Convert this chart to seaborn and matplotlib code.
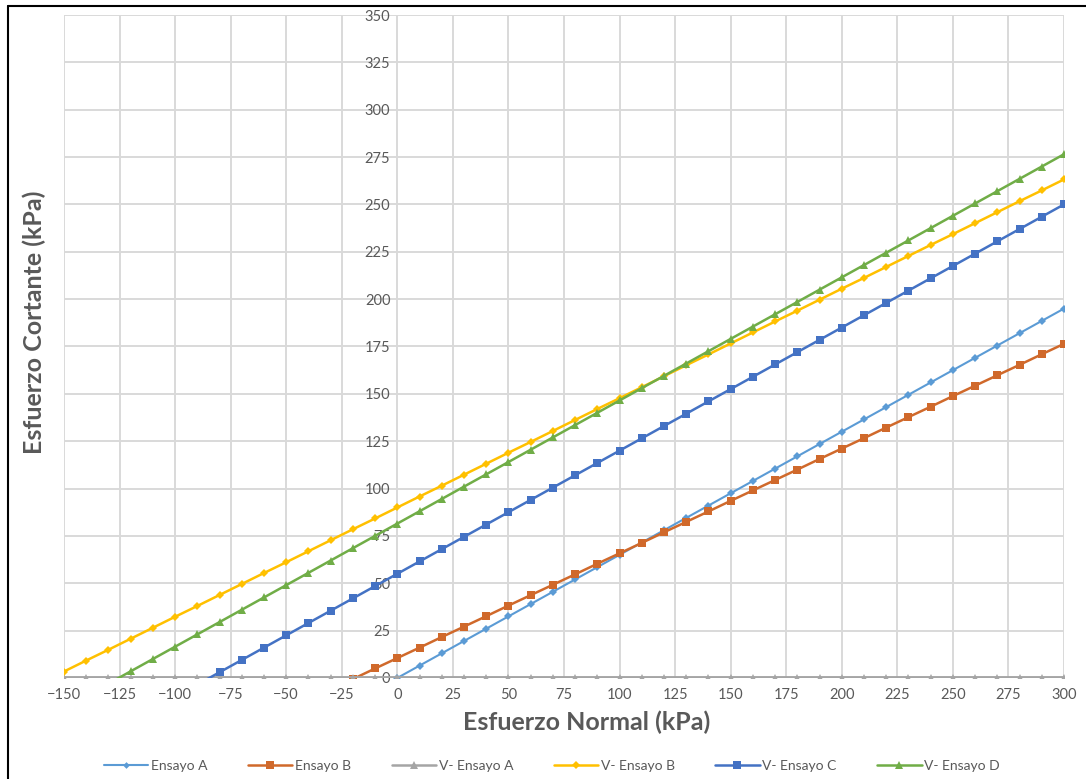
"""
Envolventes de falla: esfuerzo cortante vs esfuerzo normal
(ensayos de corte directo, estilo hoja de calculo)
"""

import pandas as pd
import matplotlib.pyplot as plt
import seaborn as sns
from matplotlib.lines import Line2D

# -------------------------------------------------------------------------
# Data (kPa)
esfuerzo_normal = [
    -150, -140, -130, -120, -110, -100, -90, -80, -70, -60,
    -50, -40, -30, -20, -10, 0, 10, 20, 30, 40,
    50, 60, 70, 80, 90, 100, 110, 120, 130, 140,
    150, 160, 170, 180, 190, 200, 210, 220, 230, 240,
    250, 260, 270, 280, 290, 300,
]

# Ensayo A starts at 0 kPa
ensayo_a = [
    0.0, 6.5, 13.0, 19.5, 26.0, 32.5, 39.0, 45.5, 52.0, 58.5,
    65.0, 71.5, 78.0, 84.5, 91.0, 97.5, 104.0, 110.5, 117.0, 123.5,
    130.0, 136.5, 143.0, 149.5, 156.0, 162.5, 169.0, 175.5, 182.0, 188.5,
    195.0,
]
# Ensayo B starts at -20 kPa
ensayo_b = [
    -0.6, 5.0, 10.5, 16.0, 21.6, 27.1, 32.6, 38.2, 43.7, 49.2,
    54.7, 60.3, 65.8, 71.3, 76.9, 82.4, 87.9, 93.5, 99.0, 104.5,
    110.0, 115.6, 121.1, 126.6, 132.2, 137.7, 143.2, 148.8, 154.3, 159.8,
    165.3, 170.9, 176.4,
]
# V- Ensayo A: flat at zero over the whole range
v_ensayo_a = [
    0, 0, 0, 0, 0, 0, 0, 0, 0, 0,
    0, 0, 0, 0, 0, 0, 0, 0, 0, 0,
    0, 0, 0, 0, 0, 0, 0, 0, 0, 0,
    0, 0, 0, 0, 0, 0, 0, 0, 0, 0,
    0, 0, 0, 0, 0, 0,
]
# V- Ensayo B: whole range
v_ensayo_b = [
    3.4, 9.2, 14.9, 20.7, 26.5, 32.3, 38.0, 43.8, 49.6, 55.4,
    61.1, 66.9, 72.7, 78.5, 84.2, 90.0, 95.8, 101.5, 107.3, 113.1,
    118.9, 124.6, 130.4, 136.2, 142.0, 147.7, 153.5, 159.3, 165.1, 170.8,
    176.6, 182.4, 188.2, 193.9, 199.7, 205.5, 211.2, 217.0, 222.8, 228.6,
    234.3, 240.1, 245.9, 251.7, 257.4, 263.2,
]
# V- Ensayo C starts at -90 kPa
v_ensayo_c = [
    -3.5, 3.0, 9.5, 16.0, 22.5, 29.0, 35.5, 42.0, 48.5, 55.0,
    61.5, 68.0, 74.5, 81.0, 87.5, 94.0, 100.5, 107.0, 113.5, 120.0,
    126.5, 133.0, 139.5, 146.0, 152.5, 159.0, 165.5, 172.0, 178.5, 185.0,
    191.5, 198.0, 204.5, 211.0, 217.5, 224.0, 230.5, 237.0, 243.5, 250.0,
]
# V- Ensayo D starts at -130 kPa
v_ensayo_d = [
    -3.0, 3.5, 10.0, 16.5, 23.0, 29.5, 36.0, 42.5, 49.0, 55.5,
    62.0, 68.5, 75.0, 81.5, 88.0, 94.5, 101.0, 107.5, 114.0, 120.5,
    127.0, 133.5, 140.0, 146.5, 153.0, 159.5, 166.0, 172.5, 179.0, 185.5,
    192.0, 198.5, 205.0, 211.5, 218.0, 224.5, 231.0, 237.5, 244.0, 250.5,
    257.0, 263.5, 270.0, 276.5,
]

series = {
    "Ensayo A": (esfuerzo_normal[15:], ensayo_a),
    "Ensayo B": (esfuerzo_normal[13:], ensayo_b),
    "V- Ensayo A": (esfuerzo_normal, v_ensayo_a),
    "V- Ensayo B": (esfuerzo_normal, v_ensayo_b),
    "V- Ensayo C": (esfuerzo_normal[6:], v_ensayo_c),
    "V- Ensayo D": (esfuerzo_normal[2:], v_ensayo_d),
}

# color, marker, marker size, line width
styles = {
    "Ensayo A": ("#5B9BD5", "D", 4.0, 1.5),
    "Ensayo B": ("#D0692B", "s", 6.0, 1.8),
    "V- Ensayo A": ("#A5A5A5", "^", 6.0, 3.5),
    "V- Ensayo B": ("#FFC000", "D", 4.5, 1.8),
    "V- Ensayo C": ("#4472C4", "s", 6.3, 1.8),
    "V- Ensayo D": ("#70AD47", "^", 6.0, 1.8),
}

long_df = pd.concat(
    [pd.DataFrame({"serie": k, "normal": v[0], "cortante": v[1]}) for k, v in series.items()],
    ignore_index=True,
)

# -------------------------------------------------------------------------
sns.set_style("white")
plt.rcParams["font.family"] = ["Lato", "DejaVu Sans"]

fig = plt.figure(figsize=(10.86, 7.79), dpi=100)
ax = fig.add_axes([0.0589, 0.1297, 0.9208, 0.851])

for name, (color, marker, ms, lw) in styles.items():
    sub = long_df[long_df["serie"] == name]
    sns.lineplot(
        data=sub, x="normal", y="cortante", ax=ax, color=color,
        marker=marker, markersize=ms, markeredgewidth=0, linewidth=lw,
        sort=False, errorbar=None,
    )

ax.set_xlim(-150, 300)
ax.set_ylim(0, 350)
ax.set_xticks(range(-150, 301, 25))
ax.set_yticks(range(0, 351, 25))
ax.grid(True, color="#d9d9d9", linewidth=1.4)
ax.set_axisbelow(True)

for s in ax.spines.values():
    s.set_visible(False)
# y labels sit on the x = 0 line, like Excel's crossing axis
ax.spines["left"].set_position(("data", 0))

ax.tick_params(axis="both", length=0, labelsize=10.5, labelcolor="#595959")
ax.tick_params(axis="x", pad=7)
ax.tick_params(axis="y", pad=5)
ax.set_xlabel("")
ax.set_ylabel("")

fig.text(587 / 1086, 1 - 722 / 779, "Esfuerzo Normal (kPa)", ha="center", va="center",
         fontsize=18, fontweight="bold", color="#595959")
fig.text(34 / 1086, 1 - 322 / 779, "Esfuerzo Cortante (kPa)", ha="center", va="center",
         rotation=90, fontsize=18, fontweight="bold", color="#595959")

# legend with its own proxy lines (smaller markers than in the plot)
handles = [
    Line2D([], [], color=c, marker=m, markersize=ms * 0.85, markeredgewidth=0,
           linewidth=min(lw, 1.8))
    for c, m, ms, lw in styles.values()
]
leg = fig.legend(handles, list(styles.keys()), loc="center",
                 bbox_to_anchor=(552 / 1086, 1 - 766 / 779),
                 ncol=6, frameon=False, fontsize=10, handlelength=3.2,
                 columnspacing=2.9, handletextpad=0.2)
for t in leg.get_texts():
    t.set_color("#595959")

# outer border (left and top only)
fig.add_artist(Line2D([8 / 1086, 8 / 1086], [0, 1 - 6 / 779], color="black", linewidth=1.5))
fig.add_artist(Line2D([8 / 1086, 1], [1 - 6 / 779, 1 - 6 / 779], color="black", linewidth=1.5))

fig.savefig("out.png", dpi=100)
